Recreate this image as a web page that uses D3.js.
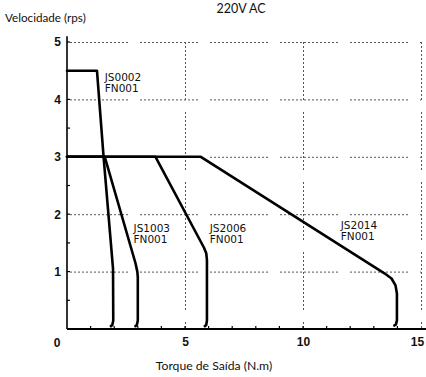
<!DOCTYPE html>
<html>
<head>
<meta charset="utf-8">
<script src="https://cdn.jsdelivr.net/npm/d3@7"></script>
<style>
  html, body { margin: 0; padding: 0; background: #fff; }
  svg { display: block; }
</style>
</head>
<body>
<svg id="chart" width="426" height="377"></svg>
<script>
// Torque / speed curves for each drive + motor combination (220V AC supply)
const seriesNames = ["JS0002 FN001", "JS1003 FN001", "JS2006 FN001", "JS2014 FN001"];

const js0002 = [[0, 4.5], [1.27, 4.5], [1.55, 3.0], [1.95, 1.05], [1.96, 0.15], [1.92, 0.07], [1.86, 0.05]];
const js1003 = [[0, 3.0], [1.6, 3.0], [2.9, 1.15], [2.98, 1.0], [3.0, 0.9], [3.0, 0.15], [2.96, 0.07], [2.9, 0.05]];
const js2006 = [[0, 3.0], [3.75, 3.0], [5.8, 1.42], [5.9, 1.32], [5.93, 1.2], [5.93, 0.15], [5.9, 0.07], [5.84, 0.05]];
const js2014 = [[0, 3.0], [5.67, 3.0], [13.45, 0.97], [13.75, 0.88], [13.92, 0.76], [13.98, 0.62], [13.98, 0.15], [13.94, 0.08], [13.87, 0.06]];

const curves = [js0002, js1003, js2006, js2014];

// two-line labels: model name and motor, anchored in data units
const labelTop = ["JS0002", "JS1003", "JS2006", "JS2014"];
const labelBottom = ["FN001", "FN001", "FN001", "FN001"];
const labelPos = [[1.6, 4.32], [2.82, 1.69], [6.05, 1.69], [11.6, 1.74]];

const xTicks = [5, 10, 15];
const yTicks = [1, 2, 3, 4, 5];
const xMinor = d3.range(1, 15);
const yMinor = d3.range(0.5, 5.01, 0.5);

const titleText = "220V AC";
const xTitle = "Torque de Saída (N.m)";
const yTitle = "Velocidade (rps)";

const svg = d3.select("#chart");
const x = d3.scaleLinear().domain([0, 15]).range([67, 421]);
const y = d3.scaleLinear().domain([0, 5]).range([329, 42]);

const titleFont = "Lato, 'DejaVu Sans', sans-serif";
const labelFont = "'DejaVu Sans', sans-serif";
const tickFont = "'Liberation Sans', Arial, sans-serif";

// dotted grid
const grid = svg.append("g").attr("stroke", "#555").attr("stroke-width", 1)
  .attr("stroke-dasharray", "2,2,2,2,2,2,2,2,2,2,2,2,2,2,2,2,2,2,2,2,2,2,2,2,2,2,2,2,2,12")
  .attr("fill", "none");
grid.selectAll("line.h").data(yTicks).join("line")
  .attr("x1", x(0) + 3).attr("x2", x(15))
  .attr("y1", d => y(d) + 0.5).attr("y2", d => y(d) + 0.5);
grid.selectAll("line.v").data(xTicks).join("line")
  .attr("x1", d => x(d) + 0.5).attr("x2", d => x(d) + 0.5)
  .attr("y1", y(5)).attr("y2", y(0));

// axes
const xAxis = d3.axisBottom(x).tickValues(xTicks).tickSize(0).tickPadding(8).tickFormat(d3.format("d"));
const gx = svg.append("g").attr("transform", `translate(0,${y(0)})`).call(xAxis);
gx.select(".domain").remove();
gx.selectAll("text").attr("font-family", tickFont).attr("font-weight", "bold")
  .attr("font-size", 12).attr("fill", "#111")
  .attr("dx", d => d === 15 ? -4 : 0); // keep the last label inside the frame

const yAxis = d3.axisLeft(y).tickValues(yTicks).tickSize(0).tickPadding(6).tickFormat(d3.format("d"));
const gy = svg.append("g").attr("transform", `translate(${x(0)},0)`).call(yAxis);
gy.select(".domain").remove();
gy.selectAll("text").attr("font-family", tickFont).attr("font-weight", "bold")
  .attr("font-size", 12).attr("fill", "#111");

// shared origin label
svg.append("text").attr("x", x(0) - 10).attr("y", y(0) + 18)
  .attr("text-anchor", "middle").attr("font-family", tickFont).attr("font-weight", "bold")
  .attr("font-size", 12).attr("fill", "#111").text("0");

// axis lines and minor ticks
svg.append("line").attr("x1", x(0)).attr("x2", 426).attr("y1", y(0)).attr("y2", y(0))
  .attr("stroke", "#000").attr("stroke-width", 2);
svg.append("line").attr("x1", x(0)).attr("x2", x(0)).attr("y1", y(0)).attr("y2", y(5.1))
  .attr("stroke", "#000").attr("stroke-width", 1.6);
svg.append("g").selectAll("line").data(xMinor).join("line")
  .attr("x1", d => x(d)).attr("x2", d => x(d)).attr("y1", y(0)).attr("y2", y(0) - 3)
  .attr("stroke", "#000").attr("stroke-width", 1.2);
svg.append("g").selectAll("line").data(yMinor).join("line")
  .attr("x1", x(0)).attr("x2", x(0) + 3).attr("y1", d => y(d)).attr("y2", d => y(d))
  .attr("stroke", "#000").attr("stroke-width", 1.2);

// curves
const line = d3.line().x(d => x(d[0])).y(d => y(d[1])).curve(d3.curveLinear);
svg.append("g").selectAll("path").data(curves).join("path")
  .attr("d", line).attr("fill", "none").attr("stroke", "#000")
  .attr("stroke-width", 2.6).attr("stroke-linejoin", "round").attr("stroke-linecap", "round");

// curve labels
const lbl = svg.append("g").attr("font-family", labelFont).attr("font-size", 10.5).attr("fill", "#111");
lbl.selectAll("text.top").data(labelTop).join("text").attr("class", "top")
  .attr("x", (d, i) => x(labelPos[i][0])).attr("y", (d, i) => y(labelPos[i][1])).text(d => d);
lbl.selectAll("text.bottom").data(labelBottom).join("text").attr("class", "bottom")
  .attr("x", (d, i) => x(labelPos[i][0])).attr("y", (d, i) => y(labelPos[i][1]) + 11).text(d => d);

// titles
svg.append("text").attr("x", 241).attr("y", 13).attr("text-anchor", "middle")
  .attr("font-family", titleFont).attr("font-size", 12.5).attr("fill", "#111").text(titleText);
svg.append("text").attr("x", 5).attr("y", 22)
  .attr("font-family", titleFont).attr("font-size", 11.7).attr("fill", "#111").text(yTitle);
svg.append("text").attr("x", 214).attr("y", 370).attr("text-anchor", "middle")
  .attr("font-family", titleFont).attr("font-size", 12.2).attr("fill", "#111").text(xTitle);
</script>
</body>
</html>
